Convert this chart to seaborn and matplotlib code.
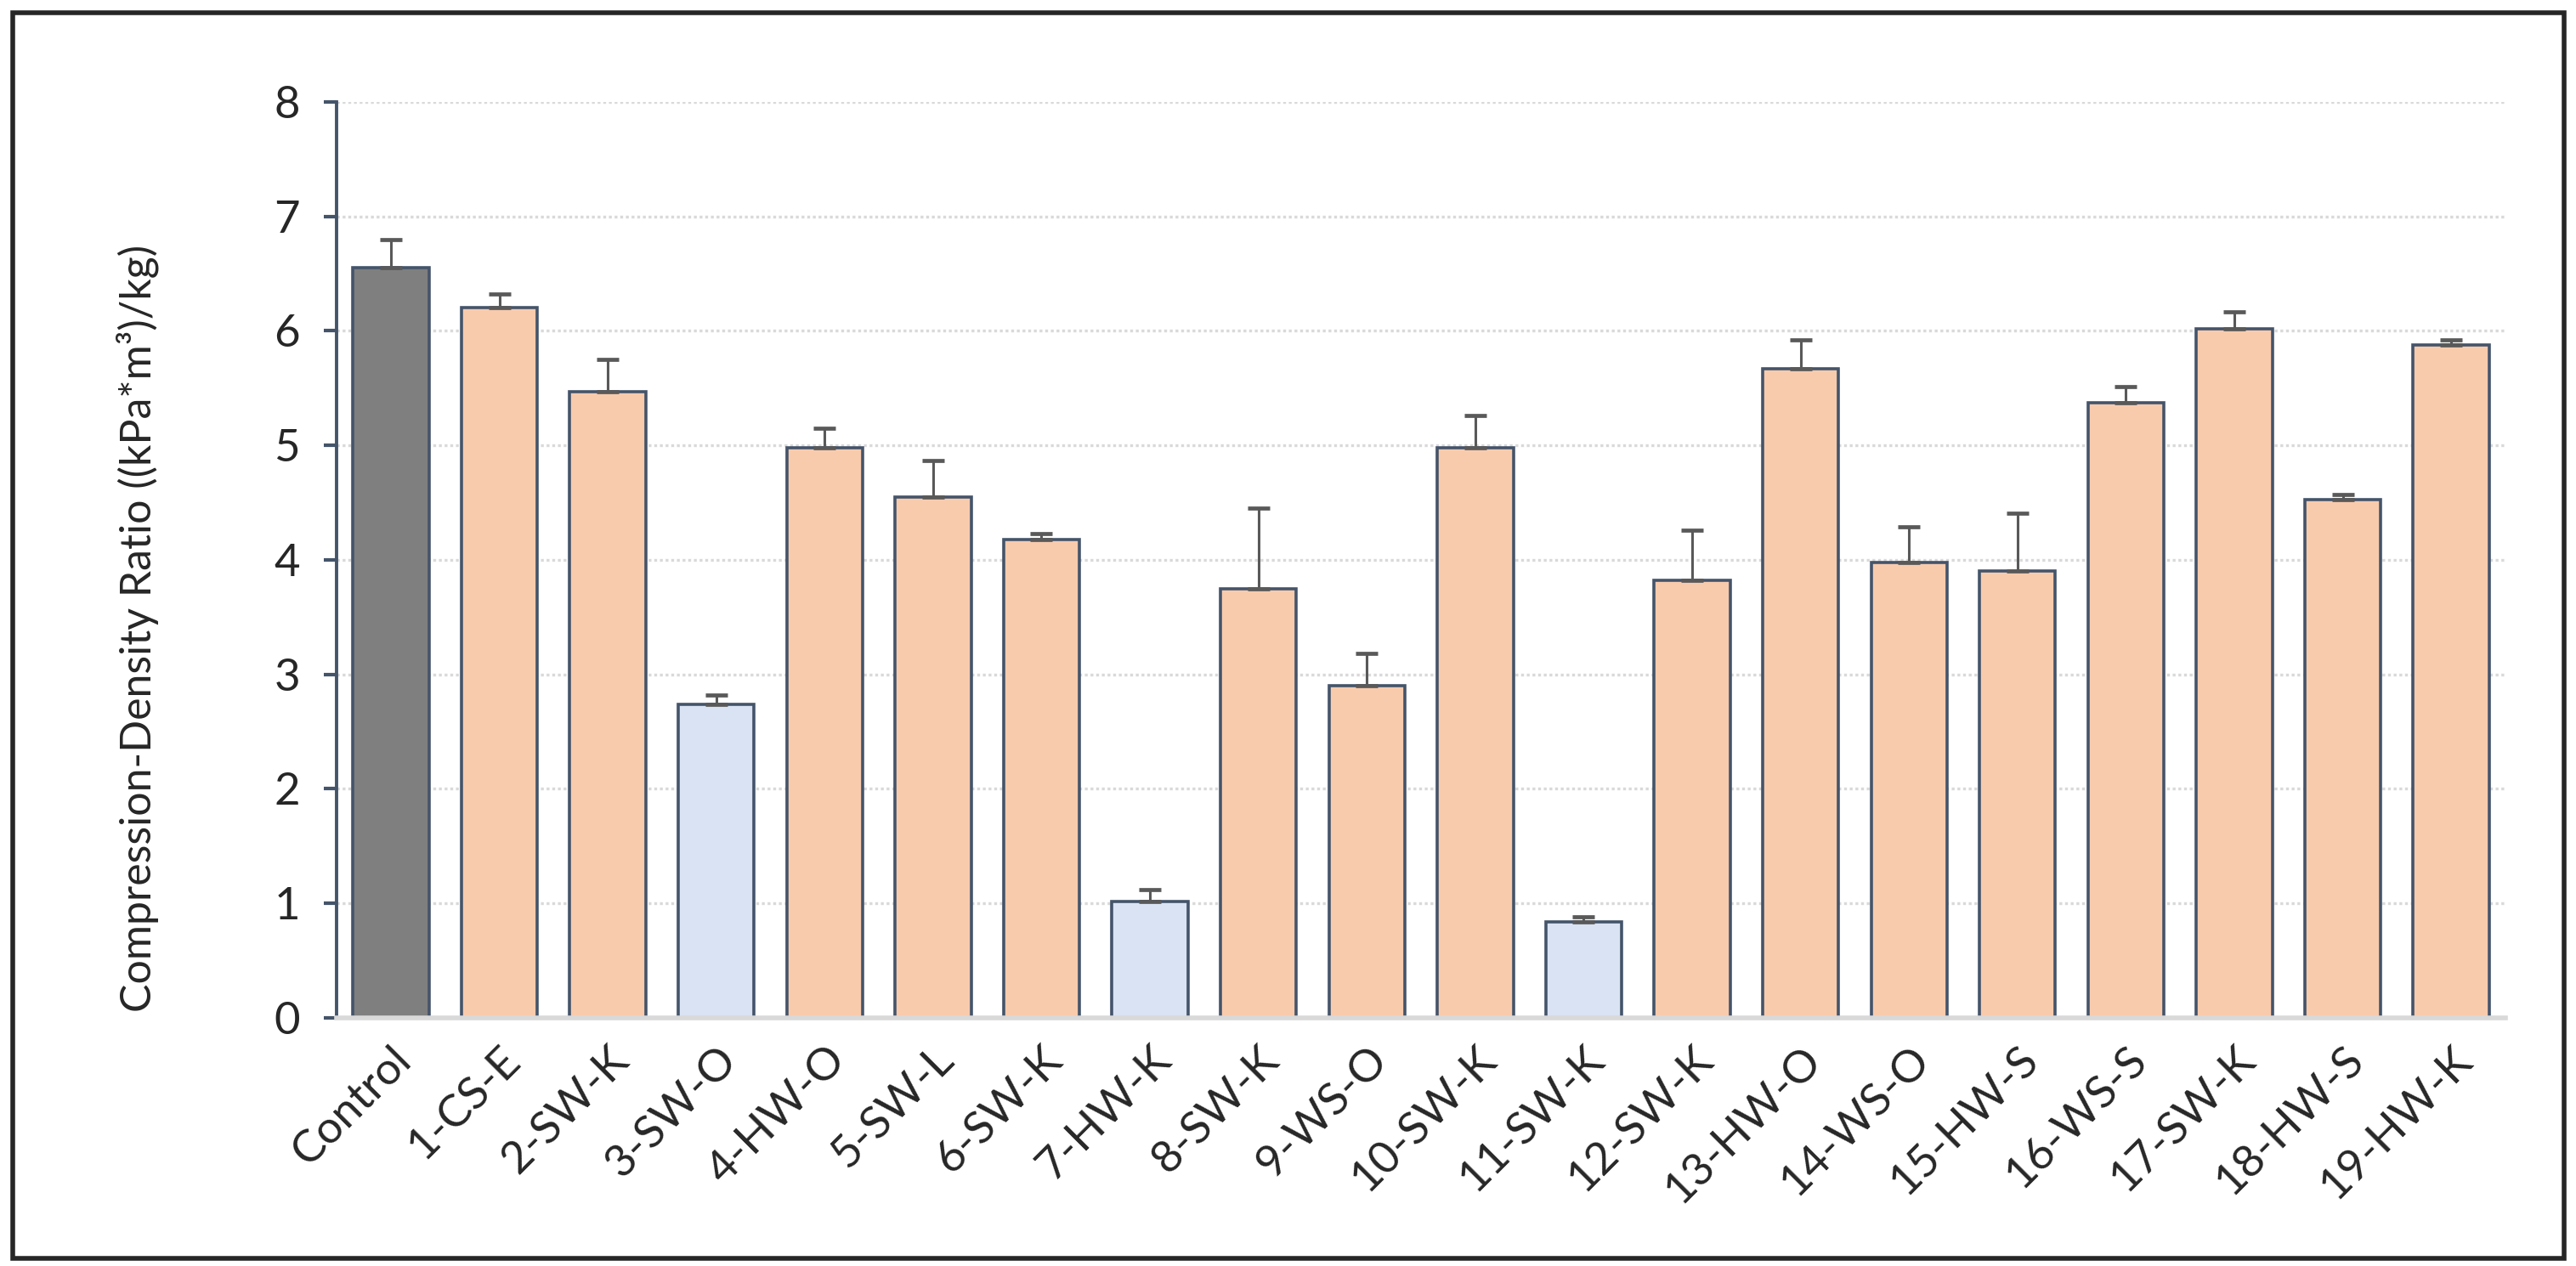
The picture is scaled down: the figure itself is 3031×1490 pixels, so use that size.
import matplotlib
matplotlib.use("Agg")
import matplotlib.pyplot as plt
import seaborn as sns
import pandas as pd
import numpy as np
from matplotlib.patches import Rectangle

categories = ["Control", "1-CS-E", "2-SW-K", "3-SW-O", "4-HW-O", "5-SW-L", "6-SW-K",
              "7-HW-K", "8-SW-K", "9-WS-O", "10-SW-K", "11-SW-K", "12-SW-K", "13-HW-O",
              "14-WS-O", "15-HW-S", "16-WS-S", "17-SW-K", "18-HW-S", "19-HW-K"]
values = [6.55, 6.20, 5.47, 2.74, 4.98, 4.55, 4.18, 1.02, 3.75, 2.90,
          4.98, 0.84, 3.82, 5.67, 3.98, 3.90, 5.37, 6.02, 4.53, 5.88]
errors = [0.25, 0.12, 0.28, 0.08, 0.17, 0.32, 0.05, 0.10, 0.70, 0.28,
          0.28, 0.04, 0.44, 0.25, 0.31, 0.51, 0.14, 0.15, 0.04, 0.04]
groups = ["control", "high", "high", "low", "high", "high", "high", "low", "high", "high",
          "high", "low", "high", "high", "high", "high", "high", "high", "high", "high"]
group_colors = {"control": "#7F7F7F", "high": "#F8CBAD", "low": "#DAE3F3"}
y_ticks = [0, 1, 2, 3, 4, 5, 6, 7, 8]
y_label = "Compression-Density Ratio ((kPa*m³)/kg)"

df = pd.DataFrame({"cat": categories, "val": values, "err": errors, "grp": groups})

sns.set_style("white")
plt.rcParams["font.family"] = ["Lato", "DejaVu Sans"]

fig = plt.figure(figsize=(30.31, 14.90), dpi=100)
ax = fig.add_axes([0.1307, 0.196, 0.9726 - 0.1307, 0.9195 - 0.196])

edge = "#44546A"
sns.barplot(data=df, x="cat", y="val", hue="grp", palette=group_colors, dodge=False,
            saturation=1, width=0.7, edgecolor=edge, linewidth=2.6, legend=False,
            ax=ax, zorder=3)

ax.errorbar(df["cat"], df["val"], yerr=[np.zeros(len(df)), df["err"]], fmt="none",
            ecolor="#595959", elinewidth=2.2, capsize=9.5, capthick=3.4, zorder=4)

ax.set_ylim(0, 8)
ax.set_xlim(-0.5, len(categories) - 0.5)
ax.set_yticks(y_ticks)
ax.set_yticklabels([str(t) for t in y_ticks], fontsize=38)
ax.yaxis.grid(True, color="#D9D9D9", linewidth=2.4, linestyle=(0, (1, 1)), zorder=0)
ax.xaxis.grid(False)
ax.set_axisbelow(True)

for lbl in ax.get_xticklabels():
    lbl.set_rotation(45)
    lbl.set_ha("right")
    lbl.set_rotation_mode("anchor")
    lbl.set_fontsize(38)

ax.set_xlabel("")
ax.set_ylabel(y_label, fontsize=36)
ax.yaxis.set_label_coords(-0.082, 0.425)

for s in ["top", "right"]:
    ax.spines[s].set_visible(False)
ax.spines["left"].set_color(edge)
ax.spines["left"].set_linewidth(2.8)
ax.spines["bottom"].set_color("#D9D9D9")
ax.spines["bottom"].set_linewidth(4)
ax.spines["bottom"].set_zorder(5)

ax.tick_params(axis="y", which="major", direction="out", length=11, width=3, color=edge, pad=20, left=True)
ax.tick_params(axis="x", which="major", length=0, pad=18, bottom=False)

fig.patches.append(Rectangle((15 / 3031, 1 - 1481 / 1490), (3017 - 15) / 3031, (1481 - 15) / 1490,
                             transform=fig.transFigure, fill=False, edgecolor="#262626",
                             linewidth=4, zorder=10))

fig.savefig("out.png", dpi=100)
